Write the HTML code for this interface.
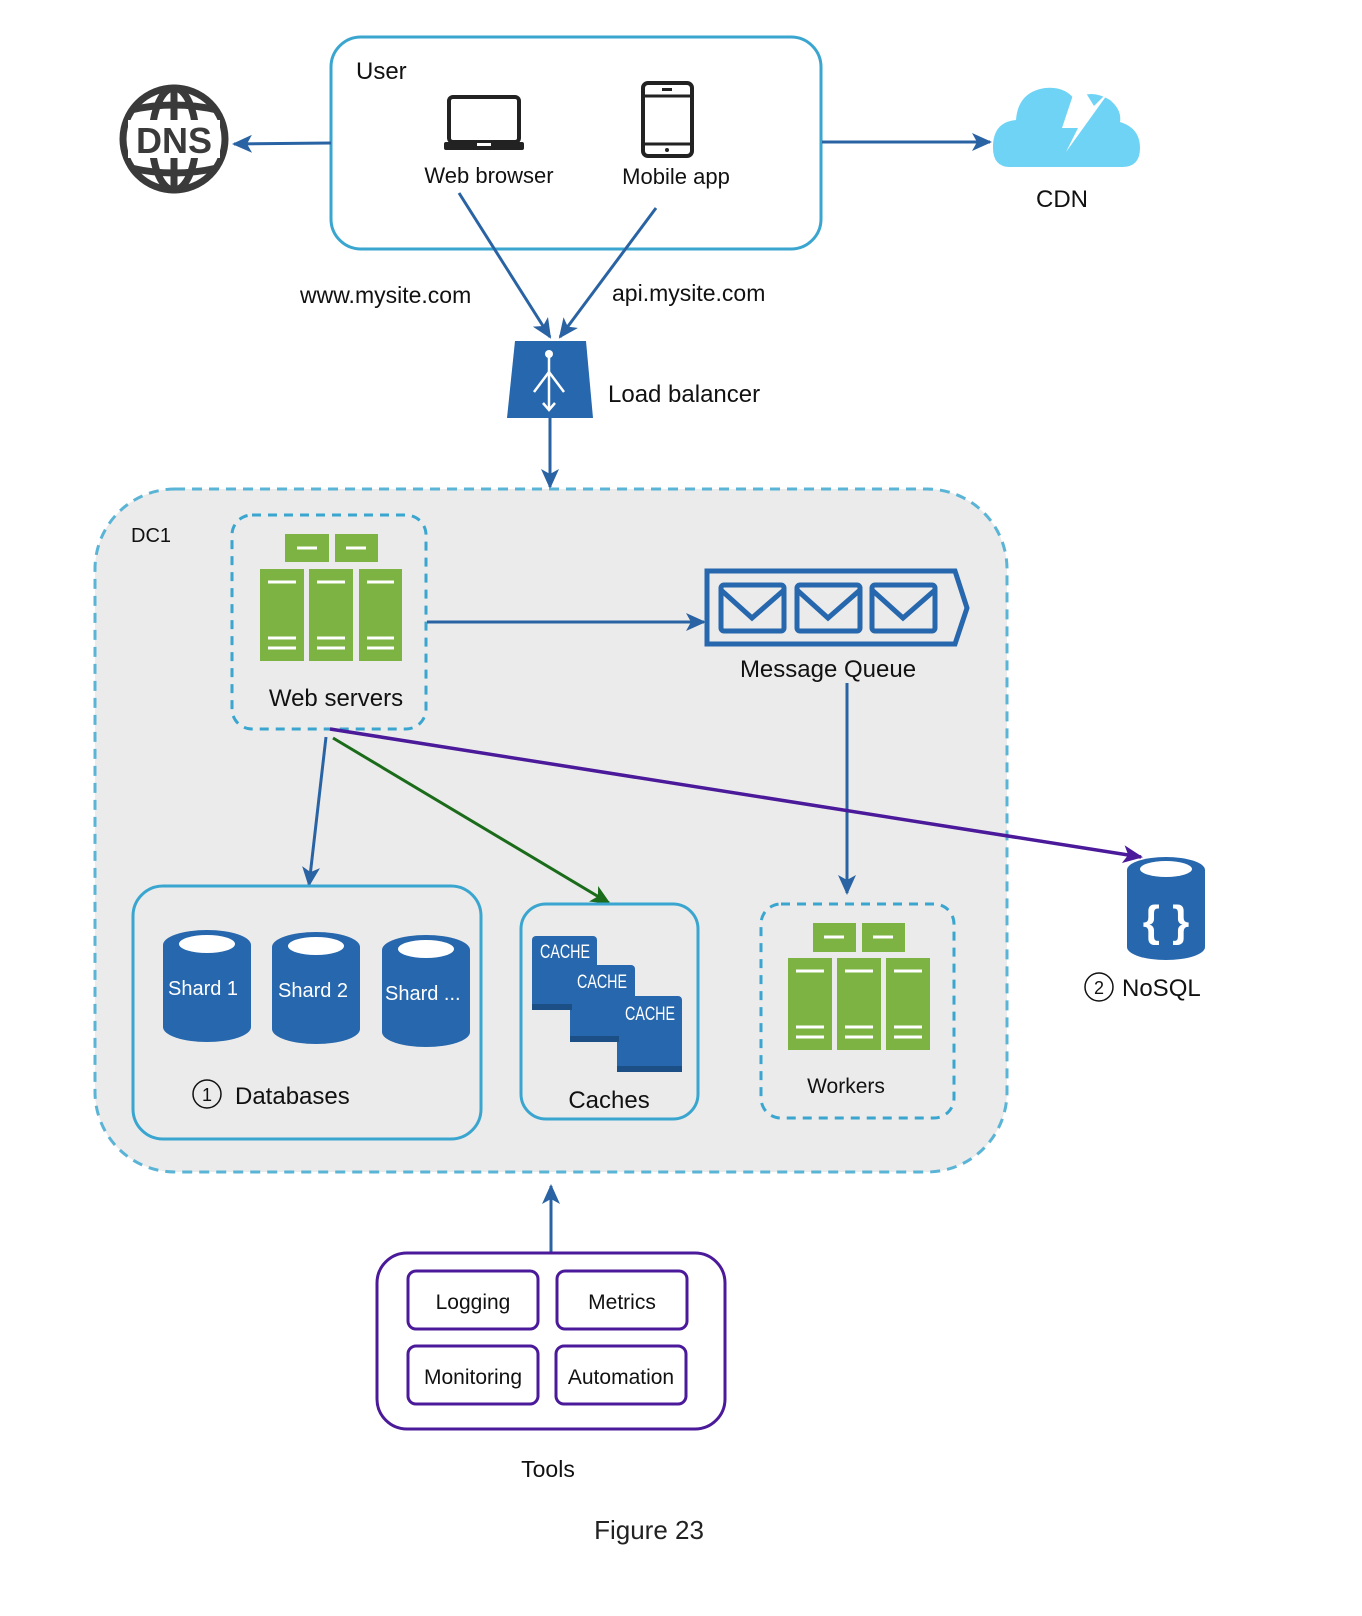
<!DOCTYPE html>
<html><head><meta charset="utf-8"><style>
html,body{margin:0;padding:0;background:#fff;}
svg{display:block;font-family:"Liberation Sans",sans-serif;}
</style></head><body>
<svg width="1362" height="1616" viewBox="0 0 1362 1616" xmlns="http://www.w3.org/2000/svg">
<defs>
<marker id="ag" markerWidth="20" markerHeight="18" refX="18" refY="9" orient="auto" markerUnits="userSpaceOnUse"><path d="M0,0 L20,9 L0,18 L5,9 z" fill="#1a6b1a"/></marker>
<marker id="ap" markerWidth="20" markerHeight="18" refX="18" refY="9" orient="auto" markerUnits="userSpaceOnUse"><path d="M0,0 L20,9 L0,18 L5,9 z" fill="#4b1a9a"/></marker>
<marker id="abl" markerWidth="20" markerHeight="18" refX="18" refY="9" orient="auto" markerUnits="userSpaceOnUse"><path d="M0,0 L20,9 L0,18 L5,9 z" fill="#2a63a3"/></marker>
</defs>

<!-- User box -->
<rect x="331" y="37" width="490" height="212" rx="30" fill="#fff" stroke="#3aa6d0" stroke-width="3"/>
<text x="356" y="79" font-size="24" fill="#111">User</text>
<rect x="449" y="97" width="70" height="45" rx="4" fill="none" stroke="#222" stroke-width="4"/>
<rect x="444" y="142" width="80" height="8" rx="2" fill="#222"/>
<rect x="477" y="143" width="14" height="3" fill="#fff"/>
<text x="489" y="183" font-size="22" text-anchor="middle" fill="#111">Web browser</text>
<rect x="643" y="83" width="49" height="73" rx="5" fill="none" stroke="#222" stroke-width="4"/>
<line x1="643" y1="96" x2="692" y2="96" stroke="#222" stroke-width="3"/>
<line x1="643" y1="144" x2="692" y2="144" stroke="#222" stroke-width="3"/>
<rect x="662" y="88" width="10" height="3" fill="#222"/>
<circle cx="667" cy="150" r="2" fill="#222"/>
<text x="676" y="184" font-size="22" text-anchor="middle" fill="#111">Mobile app</text>

<!-- DNS -->
<g stroke="#3a3a3a" stroke-width="7" fill="none">
<circle cx="174" cy="139" r="51"/>
<ellipse cx="174" cy="139" rx="22" ry="51"/>
<path d="M131,110 Q174,100 217,110"/>
<path d="M131,168 Q174,178 217,168"/>
<line x1="174" y1="88" x2="174" y2="190"/>
</g>
<rect x="128" y="120" width="92" height="38" fill="#fff"/>
<text x="174" y="153" font-size="36" font-weight="bold" text-anchor="middle" fill="#3a3a3a">DNS</text>
<line x1="331" y1="143" x2="234" y2="144" stroke="#2a63a3" stroke-width="3" marker-end="url(#abl)"/>

<!-- CDN -->
<path d="M1010,167 Q992,167 993,145 Q994,122 1016,120 Q1018,92 1045,88 Q1065,86 1075,100 Q1090,88 1110,100 Q1122,110 1120,122 Q1140,128 1140,148 Q1140,167 1122,167 Z" fill="#6fd3f5"/>
<path d="M1078,80 L1062,128 L1078,128 L1066,152 L1112,88 L1094,106 Z" fill="#fff"/>
<line x1="822" y1="142" x2="990" y2="142" stroke="#2a63a3" stroke-width="3" marker-end="url(#abl)"/>
<text x="1062" y="207" font-size="24" text-anchor="middle" fill="#111">CDN</text>

<line x1="459" y1="193" x2="550" y2="337" stroke="#2a63a3" stroke-width="3" marker-end="url(#abl)"/>
<line x1="656" y1="208" x2="560" y2="337" stroke="#2a63a3" stroke-width="3" marker-end="url(#abl)"/>
<text x="300" y="303" font-size="23" fill="#111">www.mysite.com</text>
<text x="612" y="301" font-size="23" fill="#111">api.mysite.com</text>

<!-- LB -->
<path d="M515,341 L586,341 L593,418 L507,418 Z" fill="#2667ad"/>
<g stroke="#fff" stroke-width="2.5" fill="none">
<line x1="549" y1="355" x2="549" y2="410"/>
<line x1="549" y1="372" x2="534" y2="392"/>
<line x1="549" y1="372" x2="564" y2="392"/>
<path d="M543,403 L549,410 L555,403"/>
</g>
<circle cx="549" cy="354" r="4" fill="#fff"/>
<text x="608" y="402" font-size="24" fill="#111">Load balancer</text>
<line x1="550" y1="418" x2="550" y2="487" stroke="#2a63a3" stroke-width="3" marker-end="url(#abl)"/>

<!-- DC1 -->
<rect x="95" y="489" width="912" height="683" rx="80" fill="#ebebeb" stroke="#5ab4d6" stroke-width="3" stroke-dasharray="10,7"/>
<text x="131" y="542" font-size="20" fill="#111">DC1</text>

<rect x="232" y="515" width="194" height="214" rx="20" fill="none" stroke="#3aa6d0" stroke-width="3" stroke-dasharray="9,7"/>
<g fill="#7cb342">
<rect x="285" y="534" width="44" height="28"/><rect x="335" y="534" width="43" height="28"/>
<rect x="260" y="569" width="44" height="92"/><rect x="309" y="569" width="44" height="92"/><rect x="359" y="569" width="43" height="92"/>
</g>
<g stroke="#fff" stroke-width="3">
<line x1="297" y1="548" x2="317" y2="548"/><line x1="346" y1="548" x2="366" y2="548"/>
<line x1="268" y1="582" x2="296" y2="582"/><line x1="317" y1="582" x2="345" y2="582"/><line x1="367" y1="582" x2="394" y2="582"/>
<line x1="268" y1="638" x2="296" y2="638"/><line x1="317" y1="638" x2="345" y2="638"/><line x1="367" y1="638" x2="394" y2="638"/>
<line x1="268" y1="648" x2="296" y2="648"/><line x1="317" y1="648" x2="345" y2="648"/><line x1="367" y1="648" x2="394" y2="648"/>
</g>
<text x="336" y="706" font-size="24" text-anchor="middle" fill="#111">Web servers</text>

<line x1="427" y1="622" x2="704" y2="622" stroke="#2a63a3" stroke-width="3" marker-end="url(#abl)"/>

<path d="M707,571 L955,571 L967,608 L955,644 L707,644 Z" fill="none" stroke="#2667ad" stroke-width="5"/>
<g fill="none" stroke="#2667ad" stroke-width="5">
<rect x="721" y="585" width="63" height="46" rx="3"/><path d="M721,590 L752,618 L784,590"/>
<rect x="797" y="585" width="63" height="46" rx="3"/><path d="M797,590 L828,618 L860,590"/>
<rect x="872" y="585" width="63" height="46" rx="3"/><path d="M872,590 L903,618 L935,590"/>
</g>
<text x="828" y="677" font-size="24" text-anchor="middle" fill="#111">Message Queue</text>
<line x1="847" y1="683" x2="847" y2="893" stroke="#2a63a3" stroke-width="3" marker-end="url(#abl)"/>

<line x1="330" y1="729" x2="1141" y2="857" stroke="#4b1a9a" stroke-width="3.5" marker-end="url(#ap)"/>
<line x1="333" y1="738" x2="609" y2="903" stroke="#1a6b1a" stroke-width="3" marker-end="url(#ag)"/>
<line x1="326" y1="737" x2="309" y2="885" stroke="#2a63a3" stroke-width="3" marker-end="url(#abl)"/>

<rect x="133" y="886" width="348" height="253" rx="30" fill="none" stroke="#3aa6d0" stroke-width="3"/>
<g fill="#2667ad">
<path d="M163,945 A44,15 0 0 1 251,945 L251,1027 A44,15 0 0 1 163,1027 Z"/>
<path d="M272,947 A44,15 0 0 1 360,947 L360,1029 A44,15 0 0 1 272,1029 Z"/>
<path d="M382,950 A44,15 0 0 1 470,950 L470,1032 A44,15 0 0 1 382,1032 Z"/>
</g>
<g fill="#fff">
<ellipse cx="207" cy="944" rx="28" ry="9"/><ellipse cx="316" cy="946" rx="28" ry="9"/><ellipse cx="426" cy="949" rx="28" ry="9"/>
</g>
<g font-size="20" fill="#fff">
<text x="168" y="995">Shard 1</text><text x="278" y="997">Shard 2</text><text x="385" y="1000">Shard ...</text>
</g>
<circle cx="207" cy="1094" r="14" fill="none" stroke="#111" stroke-width="1.5"/>
<text x="207" y="1101" font-size="18" text-anchor="middle" fill="#111">1</text>
<text x="235" y="1104" font-size="24" fill="#111">Databases</text>

<rect x="521" y="904" width="177" height="215" rx="25" fill="none" stroke="#3aa6d0" stroke-width="3"/>
<g fill="#2667ad">
<rect x="532" y="936" width="65" height="72" rx="4"/>
<rect x="570" y="965" width="65" height="75" rx="4"/>
<rect x="617" y="996" width="65" height="74" rx="4"/>
</g>
<g fill="#1b4f85">
<rect x="532" y="1004" width="40" height="6"/><rect x="570" y="1036" width="49" height="6"/><rect x="617" y="1066" width="65" height="6"/>
</g>
<g font-size="19" fill="#fff">
<text x="540" y="958" textLength="50" lengthAdjust="spacingAndGlyphs">CACHE</text>
<text x="577" y="988" textLength="50" lengthAdjust="spacingAndGlyphs">CACHE</text>
<text x="625" y="1020" textLength="50" lengthAdjust="spacingAndGlyphs">CACHE</text>
</g>
<text x="609" y="1108" font-size="24" text-anchor="middle" fill="#111">Caches</text>

<rect x="761" y="904" width="193" height="214" rx="20" fill="none" stroke="#3aa6d0" stroke-width="3" stroke-dasharray="9,7"/>
<g fill="#7cb342">
<rect x="813" y="923" width="43" height="29"/><rect x="862" y="923" width="43" height="29"/>
<rect x="788" y="958" width="44" height="92"/><rect x="837" y="958" width="44" height="92"/><rect x="886" y="958" width="44" height="92"/>
</g>
<g stroke="#fff" stroke-width="3">
<line x1="824" y1="937" x2="844" y2="937"/><line x1="873" y1="937" x2="893" y2="937"/>
<line x1="796" y1="971" x2="824" y2="971"/><line x1="845" y1="971" x2="873" y2="971"/><line x1="894" y1="971" x2="922" y2="971"/>
<line x1="796" y1="1027" x2="824" y2="1027"/><line x1="845" y1="1027" x2="873" y2="1027"/><line x1="894" y1="1027" x2="922" y2="1027"/>
<line x1="796" y1="1037" x2="824" y2="1037"/><line x1="845" y1="1037" x2="873" y2="1037"/><line x1="894" y1="1037" x2="922" y2="1037"/>
</g>
<text x="846" y="1093" font-size="21" text-anchor="middle" fill="#111">Workers</text>

<path d="M1127,870 A39,13 0 0 1 1205,870 L1205,947 A39,13 0 0 1 1127,947 Z" fill="#2667ad"/>
<ellipse cx="1166" cy="869" rx="26" ry="8" fill="#fff"/>
<text x="1166" y="936" font-size="44" font-weight="bold" text-anchor="middle" fill="#fff">{ }</text>
<circle cx="1099" cy="987" r="14" fill="none" stroke="#111" stroke-width="1.5"/>
<text x="1099" y="994" font-size="18" text-anchor="middle" fill="#111">2</text>
<text x="1122" y="996" font-size="24" fill="#111">NoSQL</text>

<line x1="551" y1="1252" x2="551" y2="1186" stroke="#2a63a3" stroke-width="3" marker-end="url(#abl)"/>
<rect x="377" y="1253" width="348" height="176" rx="30" fill="#fff" stroke="#4b1a9a" stroke-width="3"/>
<g fill="#fff" stroke="#4b1a9a" stroke-width="3">
<rect x="408" y="1271" width="130" height="58" rx="8"/>
<rect x="557" y="1271" width="130" height="58" rx="8"/>
<rect x="408" y="1346" width="130" height="58" rx="8"/>
<rect x="556" y="1346" width="130" height="58" rx="8"/>
</g>
<g font-size="21" text-anchor="middle" fill="#111">
<text x="473" y="1309">Logging</text><text x="622" y="1309">Metrics</text>
<text x="473" y="1384">Monitoring</text><text x="621" y="1384">Automation</text>
</g>
<text x="548" y="1477" font-size="23" text-anchor="middle" fill="#111">Tools</text>
<text x="649" y="1539" font-size="26" text-anchor="middle" fill="#222">Figure 23</text>
</svg>
</body></html>
